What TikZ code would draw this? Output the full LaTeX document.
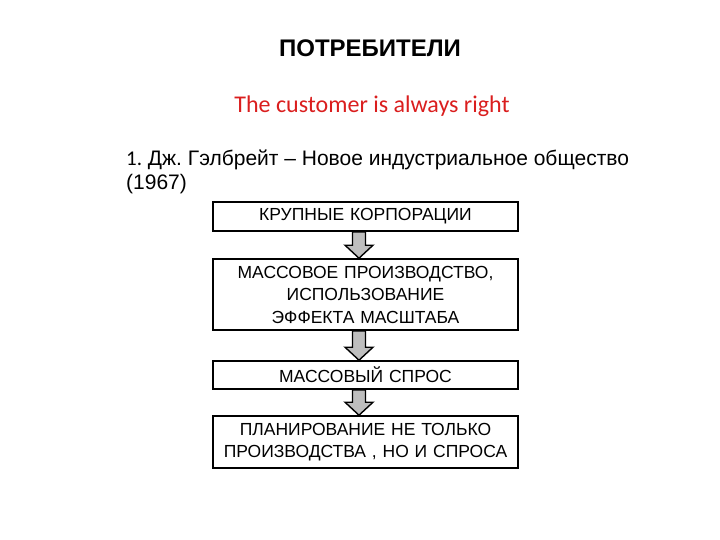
\documentclass[tikz,border=0pt]{standalone}
\usepackage{fontspec}
\setmainfont{Liberation Sans}
\newfontfamily\calibri{Carlito}
\frenchspacing
\usetikzlibrary{positioning, calc}
\definecolor{redtext}{RGB}{218,30,30}
\definecolor{arrowgray}{RGB}{190,190,190}
\tikzset{
	stage/.style={rectangle, draw=black, line width=1.6pt, minimum width=305pt, text width=303pt, align=center, font=\fontsize{17.5}{22.5}\selectfont, inner sep=1pt},
	fatarrow/.style={draw=black, line width=1.4pt, fill=arrowgray, line join=miter}
}
\newcommand{\downarrowbox}[2]{%
	\draw[fatarrow] ($(#1.south)+(-13pt,0)$) -- ($(#1.south)+(0pt,0)$) -- ($(#2.north)+(0pt,13pt)$) -- ($(#2.north)+(7.5pt,13pt)$) -- ($(#2.north)+(-6.5pt,0)$) -- ($(#2.north)+(-20.5pt,13pt)$) -- ($(#2.north)+(-13pt,13pt)$) -- cycle;}

\begin{document}
\begin{tikzpicture}[x=1pt, y=-1pt]
		\useasboundingbox (0,0) rectangle (720,540);
		
		% Headings
		\node (title) [font=\fontsize{24}{28}\selectfont\bfseries] at (370,48) {ПОТРЕБИТЕЛИ};
		\node (motto) [font=\calibri\fontsize{24}{28}\selectfont, text=redtext] at (372,106) {The customer is always right};
		\node (book) [anchor=north west, align=left, inner sep=0pt, font=\fontsize{21}{24}\selectfont] at (126,150) {{\calibri 1.} Дж. Гэлбрейт -- Новое индустриальное общество\\(1967)};
		
		% Chain of stages
		\node (corp) [stage, minimum height=29pt] at (365.5,216.5) {КРУПНЫЕ КОРПОРАЦИИ};
		\node (mass) [stage, minimum height=71pt] at (365.5,294.5) {МАССОВОЕ ПРОИЗВОДСТВО,\\ИСПОЛЬЗОВАНИЕ\\ЭФФЕКТА МАСШТАБА};
		\node (demand) [stage, minimum height=28pt] at (365.5,375) {МАССОВЫЙ СПРОС};
		\node (plan) [stage, minimum height=52pt] at (365.5,442) {ПЛАНИРОВАНИЕ НЕ ТОЛЬКО\\ПРОИЗВОДСТВА , НО И СПРОСА};
		
		% Arrows between stages
		\downarrowbox{corp}{mass}
		\downarrowbox{mass}{demand}
		\downarrowbox{demand}{plan}
		
	\end{tikzpicture}
\end{document}
